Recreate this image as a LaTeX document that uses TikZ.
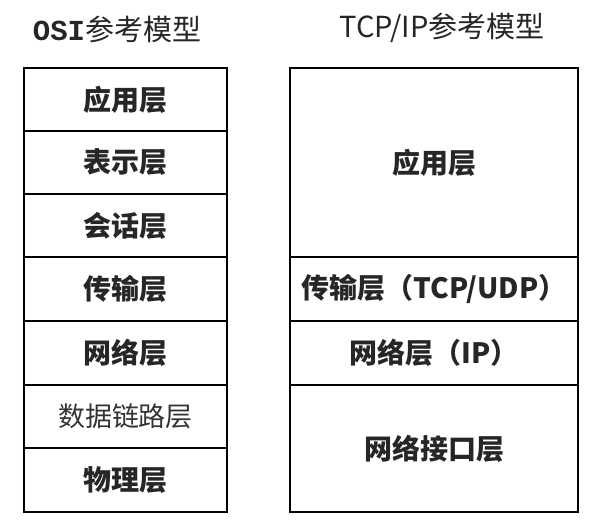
\documentclass[tikz,border=0pt]{standalone}
\usepackage{fontspec}
\setmainfont{Noto Sans CJK SC}
\newfontfamily\monob{Liberation Mono}
\begin{document}
\begin{tikzpicture}[x=1pt,y=-1pt,
  layer/.style={draw=black, line width=2.4pt, rectangle, inner sep=0pt, font=\fontsize{28}{32}\selectfont\bfseries, text=black!85},
  thinlayer/.style={layer, font=\fontsize{27}{32}\selectfont, text=black!80},
  title/.style={font=\fontsize{29}{32}\selectfont, text=black!85}]
\useasboundingbox (0,0) rectangle (603,523);
% OSI column
\node[layer, minimum width=203pt, minimum height=63pt] (app) at (125.5,99.5) {应用层};
\node[layer, minimum width=203pt, minimum height=63pt] (pre) at (125.5,162.5) {表示层};
\node[layer, minimum width=203pt, minimum height=63pt] (ses) at (125.5,225.5) {会话层};
\node[layer, minimum width=203pt, minimum height=64pt] (tra) at (125.5,289) {传输层};
\node[layer, minimum width=203pt, minimum height=64pt] (net) at (125.5,353) {网络层};
\node[thinlayer, minimum width=203pt, minimum height=63pt] (dat) at (125.5,416.5) {数据链路层};
\node[layer, minimum width=203pt, minimum height=64pt] (phy) at (125.5,480) {物理层};
% TCP/IP column
\node[layer, minimum width=288pt, minimum height=189pt] (tapp) at (434,162.5) {应用层};
\node[layer, minimum width=288pt, minimum height=64pt] (ttra) at (434,289) {传输层（TCP/UDP）};
\node[layer, minimum width=288pt, minimum height=64pt] (tnet) at (434,353) {网络层（IP）};
\node[layer, minimum width=288pt, minimum height=127pt] (tif) at (434,448.5) {网络接口层};
% titles
\node[title] (osi) at (117,29) {{\monob\bfseries OSI}参考模型};
\node[title] (tcp) at (442,28) {TCP/IP参考模型};
\end{tikzpicture}
\end{document}
